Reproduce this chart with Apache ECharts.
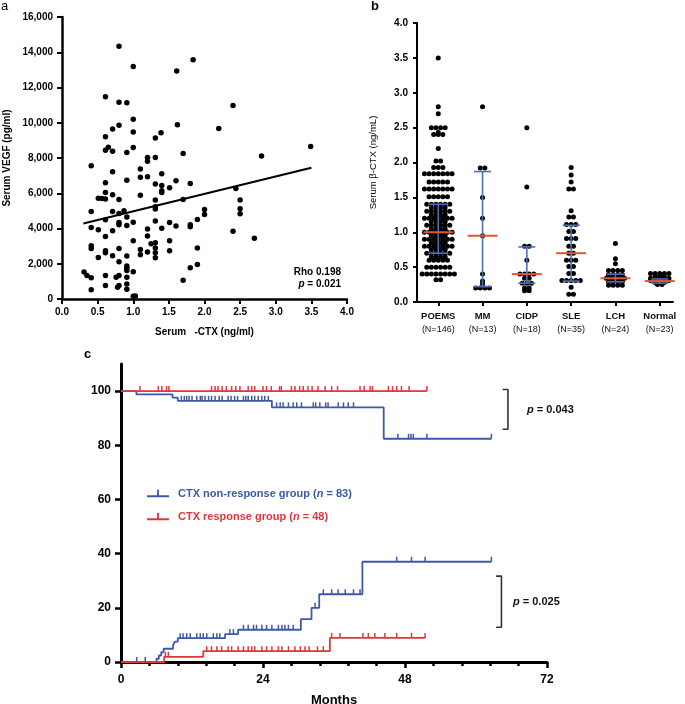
<!DOCTYPE html>
<html>
<head>
<meta charset="utf-8">
<script src="https://cdn.jsdelivr.net/npm/echarts@6/dist/echarts.min.js"></script>
<style>
  html, body { margin: 0; padding: 0; background: #fff; }
  #chart { width: 685px; height: 704px; }
</style>
</head>
<body>
<div id="chart"></div>
<script>
// ---- panel a: serum beta-CTX vs VEGF ----
const vegfPoints = [
  [0.80, 14340], [1.00, 13190], [1.84, 13580], [1.61, 12940], [0.61, 11470], [0.80, 11160],
  [0.91, 11130], [2.40, 10980], [1.00, 10200], [2.20, 9670], [0.71, 9650], [0.80, 9860],
  [1.62, 9880], [1.00, 9480], [1.39, 9430], [0.61, 9200], [1.31, 9140], [3.49, 8650],
  [1.00, 8590], [0.65, 8610], [0.61, 8440], [0.71, 8390], [0.91, 8310], [1.70, 8250],
  [2.80, 8120], [1.20, 8030], [1.31, 8030], [1.20, 7820], [0.41, 7560], [1.10, 7370],
  [0.71, 7220], [1.40, 7100], [1.10, 6910], [1.20, 6930], [0.91, 6740], [1.60, 6710],
  [0.61, 6590], [1.31, 6520], [1.40, 6440], [1.80, 6550], [2.44, 6270], [1.51, 6310],
  [1.40, 6140], [1.40, 6040], [0.61, 6040], [0.71, 5910], [1.10, 5890], [0.51, 5720],
  [0.56, 5700], [0.61, 5670], [0.80, 5650], [1.31, 5610], [1.70, 5650], [2.50, 5610],
  [1.31, 5230], [1.31, 5100], [2.50, 5120], [2.00, 5080], [0.41, 4970], [0.71, 4970],
  [0.87, 5010], [0.80, 4850], [2.50, 4840], [2.00, 4800], [0.91, 4650], [0.61, 4500],
  [1.90, 4510], [1.00, 4360], [0.80, 4340], [1.51, 4340], [1.31, 4420], [0.80, 4210],
  [0.91, 4170], [1.60, 4140], [1.80, 4210], [1.80, 4100], [1.40, 4020], [1.20, 3970],
  [0.41, 4060], [0.51, 3930], [0.71, 3870], [2.40, 3850], [1.20, 3570], [0.61, 3550],
  [2.70, 3440], [1.00, 3310], [1.51, 3310], [1.31, 3190], [1.25, 3140], [0.41, 3020],
  [0.41, 2870], [0.80, 2870], [1.90, 2890], [1.31, 2890], [1.10, 2810], [1.51, 2740],
  [0.61, 2740], [1.20, 2660], [1.31, 2630], [0.61, 2630], [1.10, 2510], [0.71, 2460],
  [0.91, 2440], [1.31, 2340], [0.51, 2360], [0.80, 2120], [0.91, 1870], [0.91, 1740],
  [1.90, 1960], [1.80, 1780], [0.91, 1610], [1.00, 1550], [0.31, 1530], [0.35, 1340],
  [0.61, 1340], [0.80, 1340], [0.76, 1230], [0.41, 1210], [0.91, 1230], [1.70, 1060],
  [0.91, 850], [0.61, 760], [0.80, 760], [0.78, 660], [0.41, 530], [0.91, 550],
  [1.00, 150], [1.03, 170]
];
const fitLine = [[0.3, 4280], [3.5, 7450]];

// ---- panel b: beta-CTX by disease group, rows of [value, count] ----
const groupNames = ['POEMS', 'MM', 'CIDP', 'SLE', 'LCH', 'Normal'];
const groupN = [146, 13, 18, 35, 24, 23];
const poemsRows = [
  [3.5, 1], [2.8, 1], [2.7, 1], [2.5, 4], [2.43, 1], [2.4, 3], [2.2, 1], [2.02, 2], [1.93, 3],
  [1.84, 7], [1.72, 5], [1.62, 7], [1.51, 5], [1.4, 6], [1.35, 4], [1.3, 6], [1.25, 4],
  [1.2, 7], [1.15, 4], [1.1, 6], [1.05, 4], [1.0, 7], [0.95, 4], [0.9, 7], [0.85, 4],
  [0.8, 7], [0.75, 4], [0.7, 6], [0.65, 4], [0.6, 5], [0.5, 6], [0.4, 8], [0.32, 2]
];
const mmRows = [[2.8, 1], [1.92, 2], [1.5, 1], [1.2, 1], [0.95, 1], [0.4, 1], [0.3, 1], [0.26, 1], [0.2, 4]];
const cidpRows = [[2.5, 1], [1.65, 1], [0.8, 2], [0.6, 1], [0.4, 4], [0.34, 2], [0.27, 3], [0.2, 2], [0.16, 2]];
const sleRows = [
  [1.93, 1], [1.82, 1], [1.72, 1], [1.62, 2], [1.31, 1], [1.22, 2], [1.11, 3], [1.01, 2],
  [0.91, 3], [0.8, 2], [0.7, 2], [0.6, 3], [0.51, 2], [0.41, 2], [0.31, 5], [0.21, 1], [0.11, 2]
];
const lchRows = [[0.84, 1], [0.62, 1], [0.55, 1], [0.45, 4], [0.39, 4], [0.34, 5], [0.29, 4], [0.24, 4]];
const normalRows = [[0.41, 5], [0.37, 3], [0.34, 5], [0.31, 5], [0.28, 3], [0.25, 2]];
const medians = [1.0, 0.95, 0.4, 0.7, 0.34, 0.3];
const lowerQ = [0.7, 0.22, 0.27, 0.3, 0.29, 0.27];
const upperQ = [1.4, 1.87, 0.79, 1.1, 0.4, 0.33];

// ---- panel c: Kaplan-Meier style curves, [month, percent] change points ----
const nonRespName = 'CTX non-response group (n = 83)';
const respName = 'CTX response group (n = 48)';
const nonRespTop = [[0, 100], [2.6, 98.8], [8.7, 97.6], [9.6, 96.4], [25.5, 94.0], [44.4, 82.4], [62.6, 82.4]];
const nonRespTopCensor = [
  10.2, 10.7, 11.1, 11.5, 12.0, 12.8, 13.4, 13.7, 14.2, 14.8, 15.3, 15.9, 16.6, 17.1, 18.1, 18.6,
  19.2, 19.7, 20.7, 21.1, 21.5, 22.1, 22.6, 23.2, 23.8, 24.3, 24.9, 26.3, 26.9, 27.4, 28.3, 29.1,
  29.7, 30.5, 32.5, 32.9, 33.6, 34.6, 35.0, 36.7, 37.6, 38.4, 39.3, 46.8, 48.6, 49.0, 49.4, 51.7, 62.6
];
const respTop = [[0, 100], [51.7, 100]];
const respTopCensor = [
  3.2, 6.3, 6.9, 7.7, 8.1, 15.3, 15.9, 16.4, 17.1, 17.8, 18.7, 19.4, 20.1, 21.5, 22.1, 22.6, 24.0,
  24.6, 25.4, 26.8, 27.1, 28.8, 29.4, 30.2, 30.8, 31.6, 32.3, 33.3, 34.5, 35.6, 36.6, 40.4, 41.1,
  42.1, 42.5, 45.2, 45.9, 46.6, 47.4, 48.7, 51.7
];
const nonRespLow = [
  [0, 0], [6.0, 1.2], [6.4, 2.4], [6.8, 3.6], [7.2, 4.9], [8.8, 6.2], [9.1, 7.5], [9.6, 8.8],
  [17.6, 10.3], [19.8, 11.9], [30.4, 15.8], [32.2, 20.0], [33.5, 25.0], [40.8, 37.0], [62.6, 37.0]
];
const nonRespLowCensor = [
  2.65, 4.1, 10.0, 10.5, 11.1, 11.7, 12.8, 13.4, 13.9, 14.5, 15.6, 16.2, 16.7, 18.4, 19.0, 20.7,
  21.5, 22.4, 22.9, 23.8, 24.6, 25.5, 26.6, 27.2, 27.7, 28.3, 29.1, 32.8, 34.2, 35.6, 36.7, 37.9,
  39.3, 40.4, 46.6, 49.1, 51.4, 62.6
];
const respLow = [[0, 0], [7.3, 1.9], [13.9, 4.0], [35.3, 8.9], [51.4, 8.9]];
const respLowCensor = [
  7.5, 8.0, 14.5, 15.3, 16.2, 17.0, 18.1, 18.7, 19.8, 20.7, 21.5, 22.1, 22.6, 23.8, 24.6, 25.5,
  26.6, 27.2, 28.3, 29.4, 30.3, 31.1, 31.8, 33.2, 34.2, 35.6, 37.0, 40.9, 41.8, 42.9, 44.6, 46.6,
  49.1, 51.4
];
const bracketTop = [[64.5, 100.6], [65.4, 100.6], [65.4, 85.9], [64.5, 85.9]];
const bracketLow = [[63.4, 31.7], [64.3, 31.7], [64.3, 12.8], [63.4, 12.8]];

const FONT = '"Liberation Sans", Arial, sans-serif';
const BLUE = '#3d5aa9';
const RED = '#e0363c';
const BAR_BLUE = '#4d6eb8';
const BAR_RED = '#e4582c';

// spread dots of the same row sideways, like a column scatter
function swarm(rows, idx) {
  const out = [];
  rows.forEach(([v, n]) => {
    for (let k = 0; k < n; k++) out.push([idx + (k - (n - 1) / 2) * 0.104, v]);
  });
  return out;
}
const bDots = [poemsRows, mmRows, cidpRows, sleRows, lchRows, normalRows]
  .reduce((acc, rows, i) => acc.concat(swarm(rows, i)), []);

function levelAt(steps, t) {
  let v = steps[0][1];
  for (const s of steps) if (s[0] <= t) v = s[1];
  return v;
}

function kmSeries(name, steps, censor, color) {
  return [{
    name: name, type: 'line', step: 'end', xAxisIndex: 2, yAxisIndex: 2,
    data: steps, symbol: 'none', itemStyle: { color: color },
    lineStyle: { color: color, width: 1.8 }, animation: false, z: 3
  }, {
    type: 'scatter', xAxisIndex: 2, yAxisIndex: 2,
    data: censor.map(t => [t, levelAt(steps, t)]),
    symbol: 'rect', symbolSize: [1.5, 5], symbolOffset: [0, -2.5],
    itemStyle: { color: color, opacity: 1 }, silent: true, animation: false, z: 3
  }];
}

const axisBold = { color: '#000', fontFamily: FONT, fontWeight: 'bold' };
const blackLine = w => ({ show: true, onZero: false, lineStyle: { color: '#000', width: w } });

const chart = echarts.init(document.getElementById('chart'));
chart.setOption({
  animation: false,
  grid: [
    { left: 62, top: 17, width: 285, height: 282, outerBoundsMode: 'none' },
    { left: 417, top: 23, width: 256, height: 279, outerBoundsMode: 'none' },
    { left: 121, top: 364, width: 426, height: 298, outerBoundsMode: 'none' }
  ],
  xAxis: [
    {
      gridIndex: 0, type: 'value', min: 0, max: 4, interval: 0.5,
      name: 'Serum   -CTX (ng/ml)', nameLocation: 'middle', nameGap: 28,
      nameTextStyle: { fontSize: 10, fontWeight: 'bold', fontFamily: FONT, color: '#000' },
      axisLine: blackLine(2.5),
      axisTick: { show: true, length: 5, lineStyle: { color: '#000', width: 2 } },
      axisLabel: Object.assign({ fontSize: 10, margin: 8, formatter: v => v.toFixed(1) }, axisBold),
      splitLine: { show: false }
    },
    {
      gridIndex: 1, type: 'value', min: -0.48, max: 5.3,
      axisLine: blackLine(2),
      axisTick: { show: true, length: 4, customValues: [0, 1, 2, 3, 4, 5], lineStyle: { color: '#000', width: 2 } },
      axisLabel: {
        customValues: [0, 1, 2, 3, 4, 5], margin: 8, lineHeight: 12,
        formatter: v => '{b|' + groupNames[Math.round(v)] + '}\n{n|(N=' + groupN[Math.round(v)] + ')}',
        rich: {
          b: { fontSize: 9.5, fontWeight: 'bold', fontFamily: FONT, color: '#111', lineHeight: 13 },
          n: { fontSize: 9, fontFamily: FONT, color: '#111', lineHeight: 13 }
        }
      },
      splitLine: { show: false }
    },
    {
      gridIndex: 2, type: 'value', min: 0, max: 72, interval: 24,
      name: 'Months', nameLocation: 'middle', nameGap: 32,
      nameTextStyle: { fontSize: 13, fontWeight: 'bold', fontFamily: FONT, color: '#000' },
      axisLine: blackLine(3),
      axisTick: { show: true, length: 6, lineStyle: { color: '#000', width: 2.5 } },
      minorTick: { show: true, splitNumber: 5, length: 4, lineStyle: { color: '#000', width: 2.5 } },
      axisLabel: Object.assign({ fontSize: 12, margin: 12 }, axisBold),
      splitLine: { show: false }, minorSplitLine: { show: false }
    }
  ],
  yAxis: [
    {
      gridIndex: 0, type: 'value', min: 0, max: 16000, interval: 2000,
      name: 'Serum VEGF (pg/ml)', nameLocation: 'middle', nameGap: 50,
      nameTextStyle: { fontSize: 10, fontWeight: 'bold', fontFamily: FONT, color: '#000' },
      axisLine: blackLine(2.5),
      axisTick: { show: true, length: 5, lineStyle: { color: '#000', width: 2 } },
      axisLabel: Object.assign({ fontSize: 10, margin: 9 }, axisBold),
      splitLine: { show: false }
    },
    {
      gridIndex: 1, type: 'value', min: 0, max: 4, interval: 0.5,
      name: 'Serum β-CTX (ng/mL)', nameLocation: 'middle', nameGap: 39,
      nameTextStyle: { fontSize: 9.5, fontFamily: FONT, color: '#000' },
      axisLine: blackLine(2),
      axisTick: { show: true, length: 4, lineStyle: { color: '#000', width: 2 } },
      axisLabel: Object.assign({ fontSize: 10, margin: 9, formatter: v => v.toFixed(1) }, axisBold),
      splitLine: { show: false }
    },
    {
      gridIndex: 2, type: 'value', min: 0, max: 110,
      axisLine: blackLine(3),
      axisTick: { show: true, length: 6, customValues: [0, 20, 40, 60, 80, 100], lineStyle: { color: '#000', width: 2.5 } },
      axisLabel: Object.assign({ fontSize: 12, margin: 10, customValues: [0, 20, 40, 60, 80, 100] }, axisBold),
      splitLine: { show: false }
    }
  ],
  legend: {
    orient: 'vertical', left: 142, top: 483, itemWidth: 22, itemHeight: 8, itemGap: 12,
    selectedMode: false,
    textStyle: { fontSize: 11, fontWeight: 'bold', fontFamily: FONT, padding: [0, 0, 0, 4] },
    formatter: name => name.replace('(n', '({i|n}'),
    data: [
      { name: nonRespName, icon: 'path://M0,6h24v2h-24z M11,0h2v7h-2z', textStyle: { color: BLUE,
        rich: { i: { fontStyle: 'italic', fontWeight: 'bold', fontSize: 11, fontFamily: FONT, color: BLUE } } } },
      { name: respName, icon: 'path://M0,6h24v2h-24z M11,0h2v7h-2z', textStyle: { color: RED,
        rich: { i: { fontStyle: 'italic', fontWeight: 'bold', fontSize: 11, fontFamily: FONT, color: RED } } } }
    ]
  },
  graphic: [
    { type: 'text', left: 1, top: 0, style: { text: 'a', fontSize: 13, fontFamily: FONT, fill: '#000' } },
    { type: 'text', left: 371, top: 0, style: { text: 'b', fontSize: 13, fontWeight: 'bold', fontFamily: FONT, fill: '#000' } },
    { type: 'text', left: 84, top: 348, style: { text: 'c', fontSize: 13, fontWeight: 'bold', fontFamily: FONT, fill: '#000' } },
    { type: 'text', x: 341, y: 272, style: { text: 'Rho 0.198', align: 'right', verticalAlign: 'middle',
      fontSize: 10, fontWeight: 'bold', fontFamily: FONT, fill: '#000' } },
    { type: 'text', x: 341, y: 284, style: { text: '{i|p} = 0.021', align: 'right', verticalAlign: 'middle',
      fontSize: 10, fontWeight: 'bold', fontFamily: FONT, fill: '#000',
      rich: { i: { fontStyle: 'italic', fontWeight: 'bold', fontSize: 10, fontFamily: FONT, fill: '#000' } } } },
    { type: 'text', x: 527, y: 410, style: { text: '{i|p} = 0.043', verticalAlign: 'middle',
      fontSize: 11, fontWeight: 'bold', fontFamily: FONT, fill: '#111',
      rich: { i: { fontStyle: 'italic', fontWeight: 'bold', fontSize: 11, fontFamily: FONT, fill: '#111' } } } },
    { type: 'text', x: 513, y: 602, style: { text: '{i|p} = 0.025', verticalAlign: 'middle',
      fontSize: 11, fontWeight: 'bold', fontFamily: FONT, fill: '#111',
      rich: { i: { fontStyle: 'italic', fontWeight: 'bold', fontSize: 11, fontFamily: FONT, fill: '#111' } } } }
  ],
  series: [
    {
      type: 'scatter', xAxisIndex: 0, yAxisIndex: 0, data: vegfPoints,
      symbolSize: 5.5, itemStyle: { color: '#000', opacity: 1 }
    },
    {
      type: 'line', xAxisIndex: 0, yAxisIndex: 0, data: fitLine, symbol: 'none',
      lineStyle: { color: '#000', width: 2 }
    },
    {
      type: 'scatter', xAxisIndex: 1, yAxisIndex: 1, data: bDots,
      symbolSize: 5, itemStyle: { color: '#000', opacity: 1 }, z: 2
    },
    {
      type: 'custom', xAxisIndex: 1, yAxisIndex: 1, z: 3,
      data: medians.map((m, i) => [i, m, lowerQ[i], upperQ[i]]),
      renderItem: (params, api) => {
        const i = api.value(0);
        const mid = api.coord([i, api.value(1)]);
        const lo = api.coord([i, api.value(2)]);
        const hi = api.coord([i, api.value(3)]);
        const cap = i === 0 ? 10 : 8.5;
        const blue = { stroke: BAR_BLUE, lineWidth: 1.6 };
        return {
          type: 'group',
          children: [
            { type: 'line', shape: { x1: lo[0], y1: lo[1], x2: hi[0], y2: hi[1] }, style: blue },
            { type: 'line', shape: { x1: lo[0] - cap, y1: lo[1], x2: lo[0] + cap, y2: lo[1] }, style: blue },
            { type: 'line', shape: { x1: hi[0] - cap, y1: hi[1], x2: hi[0] + cap, y2: hi[1] }, style: blue },
            { type: 'line', shape: { x1: mid[0] - 15, y1: mid[1], x2: mid[0] + 15, y2: mid[1] },
              style: { stroke: BAR_RED, lineWidth: 2 } }
          ]
        };
      }
    },
    ...kmSeries(nonRespName, nonRespTop, nonRespTopCensor, BLUE),
    ...kmSeries(nonRespName, nonRespLow, nonRespLowCensor, BLUE),
    ...kmSeries(respName, respTop, respTopCensor, RED),
    ...kmSeries(respName, respLow, respLowCensor, RED),
    {
      type: 'line', xAxisIndex: 2, yAxisIndex: 2, data: bracketTop, symbol: 'none',
      lineStyle: { color: '#333', width: 1.6 }
    },
    {
      type: 'line', xAxisIndex: 2, yAxisIndex: 2, data: bracketLow, symbol: 'none',
      lineStyle: { color: '#333', width: 1.6 }
    }
  ]
});
</script>
</body>
</html>
